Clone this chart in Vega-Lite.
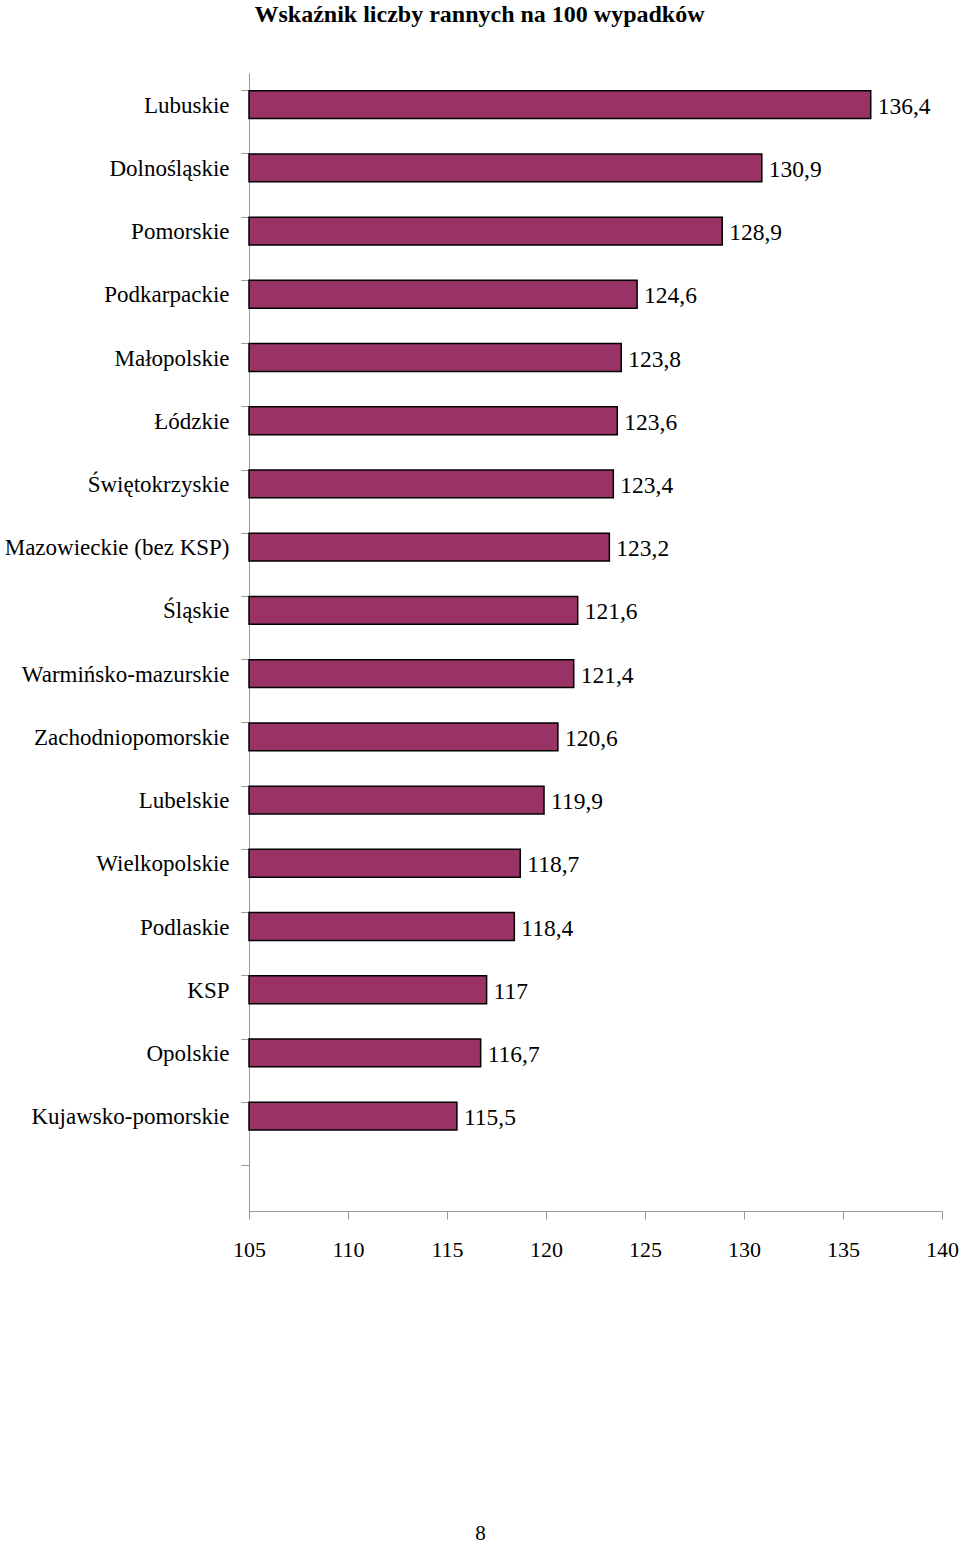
{
  "$schema": "https://vega.github.io/schema/vega-lite/v6.json",
  "autosize": {"type": "none"},
  "padding": {"left": 249, "top": 73, "right": 18, "bottom": 332},
  "width": 693,
  "height": 1138,
  "background": "white",
  "title": {
    "text": "Wskaźnik liczby rannych na 100 wypadków",
    "font": "Liberation Serif",
    "fontSize": 24,
    "fontWeight": "bold",
    "color": "black",
    "anchor": "middle",
    "frame": "group",
    "dx": -116,
    "offset": 46
  },
  "config": {
    "view": {"stroke": null},
    "locale": {"number": {"decimal": ",", "thousands": " ", "grouping": [3], "currency": ["", " zł"]}}
  },
  "data": {
    "values": [
      {"region": "Lubuskie", "value": 136.4},
      {"region": "Dolnośląskie", "value": 130.9},
      {"region": "Pomorskie", "value": 128.9},
      {"region": "Podkarpackie", "value": 124.6},
      {"region": "Małopolskie", "value": 123.8},
      {"region": "Łódzkie", "value": 123.6},
      {"region": "Świętokrzyskie", "value": 123.4},
      {"region": "Mazowieckie (bez KSP)", "value": 123.2},
      {"region": "Śląskie", "value": 121.6},
      {"region": "Warmińsko-mazurskie", "value": 121.4},
      {"region": "Zachodniopomorskie", "value": 120.6},
      {"region": "Lubelskie", "value": 119.9},
      {"region": "Wielkopolskie", "value": 118.7},
      {"region": "Podlaskie", "value": 118.4},
      {"region": "KSP", "value": 117},
      {"region": "Opolskie", "value": 116.7},
      {"region": "Kujawsko-pomorskie", "value": 115.5}
    ]
  },
  "encoding": {
    "y": {
      "field": "region",
      "type": "nominal",
      "sort": null,
      "scale": {
        "domain": ["Lubuskie", "Dolnośląskie", "Pomorskie", "Podkarpackie", "Małopolskie", "Łódzkie", "Świętokrzyskie", "Mazowieckie (bez KSP)", "Śląskie", "Warmińsko-mazurskie", "Zachodniopomorskie", "Lubelskie", "Wielkopolskie", "Podlaskie", "KSP", "Opolskie", "Kujawsko-pomorskie", " "],
        "paddingInner": 0.56,
        "paddingOuter": 0.28
      },
      "axis": {
        "title": null,
        "bandPosition": 0,
        "domainColor": "#999999",
        "tickColor": "#999999",
        "tickSize": 8,
        "labelPadding": 12,
        "labelFont": "Liberation Serif",
        "labelFontSize": 23,
        "labelColor": "black",
        "labelLimit": 400,
        "labelOffset": 1,
        "grid": false
      }
    },
    "x": {
      "field": "value",
      "type": "quantitative",
      "scale": {"domain": [105, 140], "zero": false, "nice": false},
      "axis": {
        "values": [105, 110, 115, 120, 125, 130, 135, 140],
        "format": "d",
        "grid": false,
        "domainColor": "#999999",
        "tickColor": "#999999",
        "tickSize": 8,
        "labelPadding": 20,
        "labelFont": "Liberation Serif",
        "labelFontSize": 22,
        "labelColor": "black",
        "labelFlush": false,
        "labelOverlap": false,
        "title": "8",
        "titleFont": "Liberation Serif",
        "titleFontSize": 21,
        "titleFontWeight": "normal",
        "titleColor": "black",
        "titleX": 231,
        "titleY": 322,
        "titleAlign": "center",
        "titleBaseline": "middle",
        "titleAnchor": null
      }
    }
  },
  "layer": [
    {
      "mark": {"type": "bar", "fill": "#993366", "stroke": "black", "strokeWidth": 1.5},
      "encoding": {"x2": {"datum": 105}}
    },
    {
      "mark": {"type": "text", "align": "left", "baseline": "middle", "dx": 7, "dy": 2, "font": "Liberation Serif", "fontSize": 23.5, "color": "black"},
      "encoding": {"text": {"field": "value", "type": "quantitative", "format": ".1~f"}}
    }
  ]
}
